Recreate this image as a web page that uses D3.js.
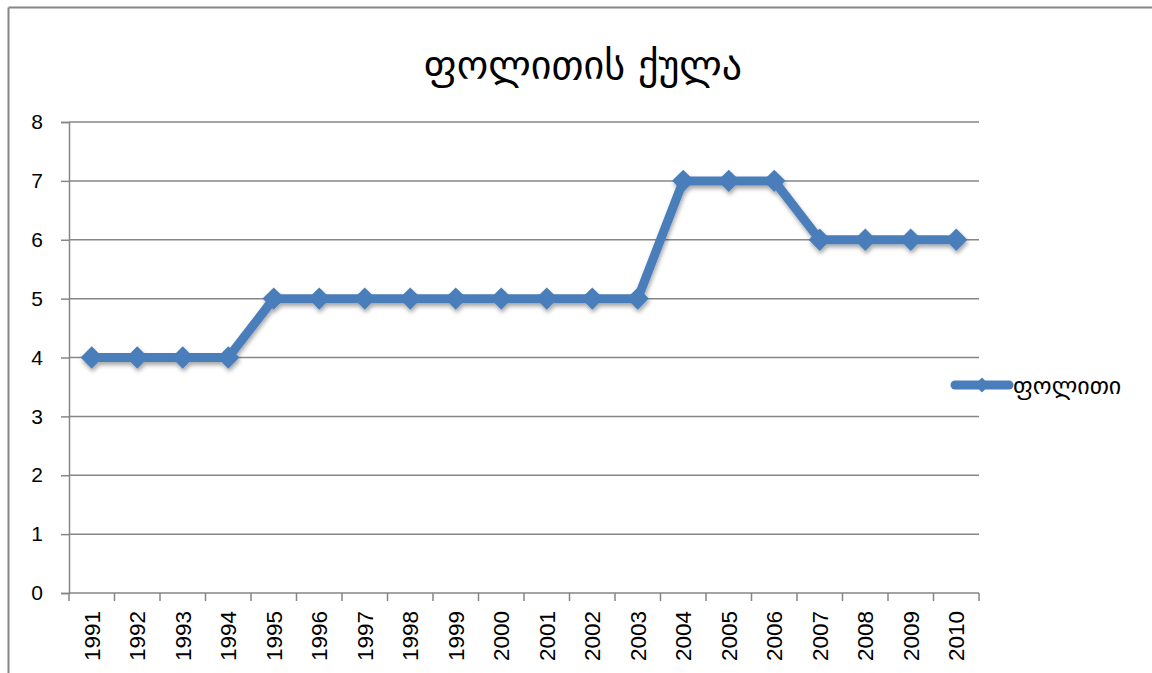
<!DOCTYPE html>
<html lang="ka">
<head>
<meta charset="UTF-8">
<title>ფოლითის ქულა</title>
<script src="https://d3js.org/d3.v7.min.js"></script>
<style>
    body { margin: 0; background: #fff; }
</style>
</head>
<body>
<svg id="chart"></svg>
<script>
    // data
    const years = ["1991","1992","1993","1994","1995","1996","1997","1998","1999","2000",
                   "2001","2002","2003","2004","2005","2006","2007","2008","2009","2010"];
    const scores = [4,4,4,4,5,5,5,5,5,5,5,5,5,7,7,7,6,6,6,6];
    const yTicks = [0,1,2,3,4,5,6,7,8];
    const chartTitle = "ფოლითის ქულა";
    const seriesName = "ფოლითი";

    const W = 1152, H = 673;
    const plot = { left: 69, right: 979, top: 122, bottom: 593 };
    const blue = "#4a7ebb";
    const grid = "#868686";
    const numFont = "'Liberation Sans', 'Open Sans', sans-serif";
    const geoFont = "'DejaVu Sans', sans-serif";

    const svg = d3.select("#chart").attr("width", W).attr("height", H);

    // drop shadow for the line + markers
    const defs = svg.append("defs");
    const f = defs.append("filter").attr("id", "shadow")
        .attr("x", "-20%").attr("y", "-20%").attr("width", "140%").attr("height", "140%");
    f.append("feDropShadow").attr("dx", 1).attr("dy", 3).attr("stdDeviation", 2)
        .attr("flood-color", "#000").attr("flood-opacity", 0.35);

    // outer frame (only top and left visible in the picture)
    svg.append("line").attr("x1", 8.5).attr("x2", W).attr("y1", 7.5).attr("y2", 7.5)
        .attr("stroke", grid).attr("stroke-width", 2);
    svg.append("line").attr("x1", 8.5).attr("x2", 8.5).attr("y1", 7.5).attr("y2", H)
        .attr("stroke", grid).attr("stroke-width", 2);

    const x = d3.scaleBand().domain(years).range([plot.left, plot.right]);
    const y = d3.scaleLinear().domain([0, 8]).range([plot.bottom, plot.top]);

    // gridlines + y labels
    const yAxis = svg.append("g").attr("transform", `translate(${plot.left},0)`)
        .call(d3.axisLeft(y).tickValues(yTicks).tickSize(8).tickPadding(18).tickFormat(d3.format("d")));
    yAxis.attr("font-size", null).attr("font-family", null);
    yAxis.select(".domain").attr("stroke", grid).attr("stroke-width", 1.5);
    yAxis.selectAll(".tick line").attr("stroke", grid).attr("stroke-width", 1.5);
    yAxis.selectAll(".tick text")
        .style("font-family", numFont).style("font-size", "21px").attr("fill", "#000");
    svg.append("g").selectAll("line").data(yTicks).join("line")
        .attr("x1", plot.left).attr("x2", plot.right)
        .attr("y1", d => y(d)).attr("y2", d => y(d))
        .attr("stroke", grid).attr("stroke-width", 1.5);

    // x axis with ticks at category borders
    const xg = svg.append("g");
    const borders = years.map(d => x(d)).concat([plot.right]);
    xg.selectAll("line").data(borders).join("line")
        .attr("x1", d => d).attr("x2", d => d)
        .attr("y1", plot.bottom).attr("y2", plot.bottom + 8)
        .attr("stroke", grid).attr("stroke-width", 1.5);
    xg.selectAll("text").data(years).join("text")
        .style("font-family", numFont).style("font-size", "22.5px")
        .attr("transform", d => `translate(${x(d) + x.bandwidth() / 2 + 8},${plot.bottom + 18}) rotate(-90)`)
        .attr("text-anchor", "end")
        .text(d => d);

    // series
    const pts = years.map((d, i) => [x(d) + x.bandwidth() / 2, y(scores[i])]);
    const sg = svg.append("g").attr("filter", "url(#shadow)");
    sg.append("path").attr("d", d3.line()(pts))
        .attr("fill", "none").attr("stroke", blue).attr("stroke-width", 9)
        .attr("stroke-linejoin", "round").attr("stroke-linecap", "round");
    sg.selectAll(".mk").data(pts).join("path")
        .attr("class", "mk")
        .attr("d", d3.symbol().type(d3.symbolSquare).size(250))
        .attr("transform", d => `translate(${d[0]},${d[1]}) rotate(45)`)
        .attr("fill", blue);

    // title
    svg.append("text")
        .style("font-family", geoFont).style("font-size", "40px")
        .attr("x", 583).attr("y", 79).attr("text-anchor", "middle")
        .text(chartTitle);

    // legend
    const lg = svg.append("g").attr("transform", "translate(955,385)");
    lg.append("line").attr("x1", 0).attr("x2", 54).attr("y1", 0).attr("y2", 0)
        .attr("stroke", blue).attr("stroke-width", 9).attr("stroke-linecap", "round");
    lg.append("path").attr("d", d3.symbol().type(d3.symbolSquare).size(110)())
        .attr("transform", "translate(27,0) rotate(45)").attr("fill", blue);
    lg.append("text")
        .style("font-family", geoFont).style("font-size", "24px")
        .attr("x", 58).attr("y", 9)
        .text(seriesName);
</script>
</body>
</html>
